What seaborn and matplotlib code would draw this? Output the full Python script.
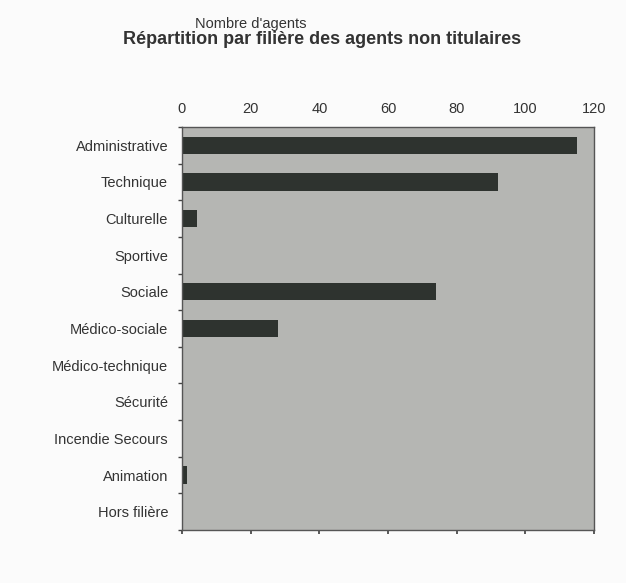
import matplotlib
matplotlib.use("Agg")
import matplotlib.pyplot as plt
import seaborn as sns
import pandas as pd

categories = ["Administrative", "Technique", "Culturelle", "Sportive", "Sociale",
              "Médico-sociale", "Médico-technique", "Sécurité", "Incendie Secours",
              "Animation", "Hors filière"]
values = [115, 92, 4.5, 0, 74, 28, 0, 0, 0, 1.4, 0]
x_ticks = [0, 20, 40, 60, 80, 100, 120]

df = pd.DataFrame({"filiere": categories, "agents": values})

sns.set_theme(style="white")
plt.rcParams['font.family'] = ['Liberation Sans', 'DejaVu Sans']

fig = plt.figure(figsize=(6.26, 5.83), dpi=100)
fig.patch.set_facecolor("#fbfbfb")
ax = fig.add_axes([182/626, 1 - 530/583, (594-182)/626, (530-127)/583])
ax.set_facecolor("#b5b6b3")

sns.barplot(data=df, x="agents", y="filiere", orient="h", color="#2e332f",
            width=0.47, saturation=1, ax=ax, edgecolor="none")

ax.set_xlim(0, 120)
ax.set_ylim(10.5, -0.5)
ax.set_xticks(x_ticks)
ax.xaxis.set_ticks_position("bottom")
ax.xaxis.set_label_position("top")
ax.tick_params(axis="x", which="both", labeltop=True, labelbottom=False,
               bottom=True, top=False, length=3, color="#444444",
               labelsize=10.5, labelcolor="#333333", pad=5, direction="out")
ax.tick_params(axis="y", length=0, labelsize=10.5, labelcolor="#333333", pad=10)
ax.set_yticks(range(len(categories)))
ax.set_yticklabels(categories)
# minor ticks between categories on y axis
ax.set_yticks([i + 0.5 for i in range(-1, len(categories))], minor=True)
ax.tick_params(axis="y", which="minor", length=3, color="#444444", left=True)
ax.set_xlabel("")
ax.set_ylabel("")
for s in ax.spines.values():
    s.set_color("#555555")
    s.set_linewidth(1.0)

fig.text(0.515, 1 - 40/583, "Répartition par filière des agents non titulaires",
         ha="center", va="center", fontsize=13, fontweight="bold", color="#333333")
fig.text(0.401, 1 - 24/583, "Nombre d'agents", ha="center", va="center",
         fontsize=10.5, color="#333333")

fig.savefig("out.png", dpi=100, facecolor=fig.get_facecolor())
